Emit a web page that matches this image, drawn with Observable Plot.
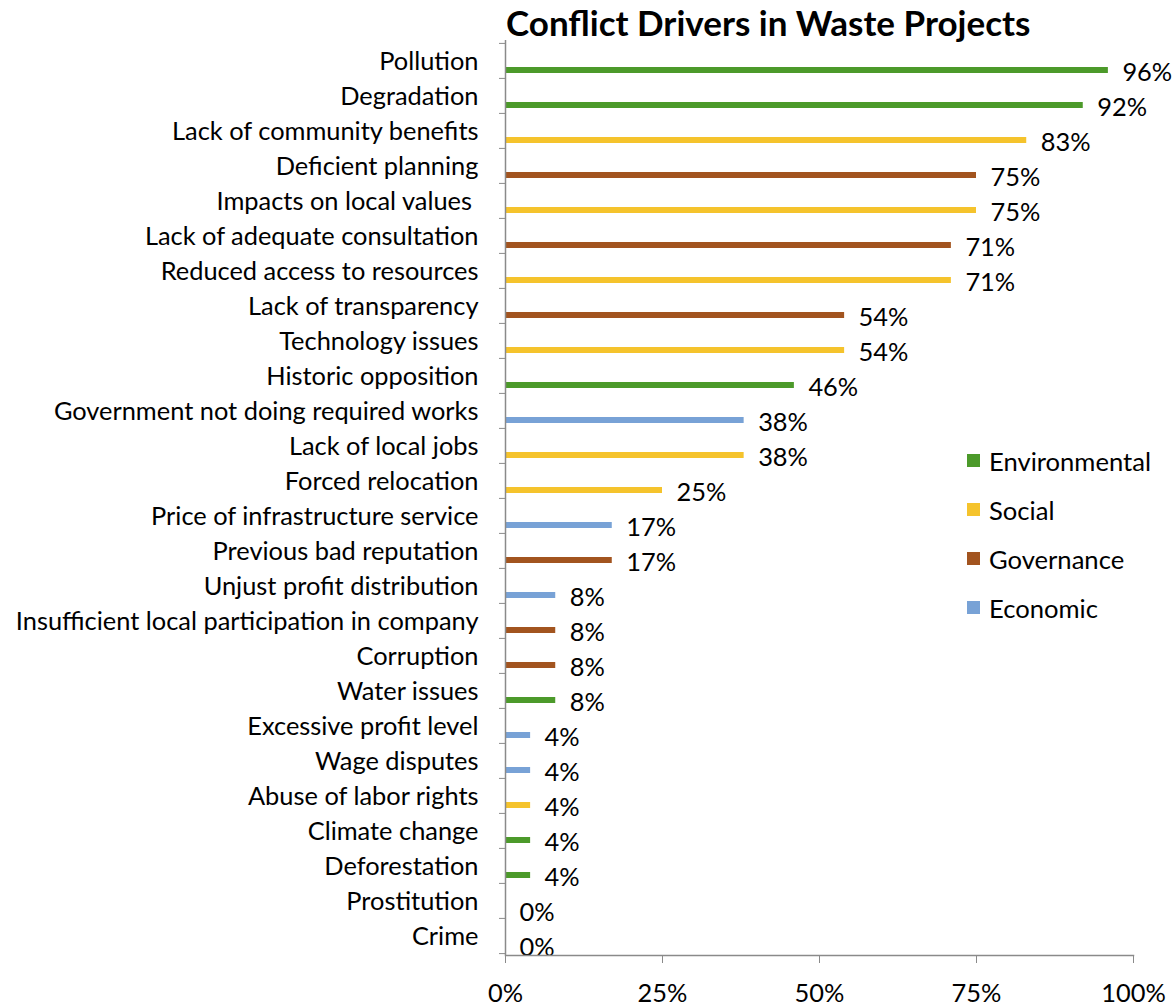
<!DOCTYPE html>
<html>
<head>
<meta charset="utf-8">
<script src="https://cdn.jsdelivr.net/npm/d3@7"></script>
<script src="https://cdn.jsdelivr.net/npm/@observablehq/plot@0.6"></script>
<style>
  html, body { margin: 0; padding: 0; background: #fff; }
  #wrap { position: relative; width: 1174px; height: 1008px; font-family: Lato, "Open Sans", sans-serif; color: #000; background: #fff; }
  #title { position: absolute; left: 506px; top: 2px; font-size: 35px; font-weight: 700; line-height: 40px; margin: 0; white-space: nowrap; z-index: 2; }
  #chart { position: absolute; left: 0; top: 36px; z-index: 1; }
  #legend { position: absolute; left: 967px; top: 448px; z-index: 2; }
  .item { position: relative; height: 49px; font-size: 25.6px; line-height: 26px; }
  .sw { position: absolute; left: 0; top: 6px; width: 13px; height: 13px; }
  .lab { position: absolute; left: 22px; top: 0; white-space: nowrap; }
</style>
</head>
<body>
<div id="wrap">
  <div id="title">Conflict Drivers in Waste Projects</div>
  <div id="chart"></div>
  <div id="legend"></div>
</div>
<script>
// Conflict drivers, top to bottom, with share of projects (%) and driver type
const drivers = [
  "Pollution", "Degradation", "Lack of community benefits", "Deficient planning",
  "Impacts on local values ", "Lack of adequate consultation", "Reduced access to resources",
  "Lack of transparency", "Technology issues", "Historic opposition",
  "Government not doing required works", "Lack of local jobs", "Forced relocation",
  "Price of infrastructure service", "Previous bad reputation", "Unjust profit distribution",
  "Insufficient local participation in company", "Corruption", "Water issues",
  "Excessive profit level", "Wage disputes", "Abuse of labor rights", "Climate change",
  "Deforestation", "Prostitution", "Crime"
];
const shares = [96, 92, 83, 75, 75, 71, 71, 54, 54, 46, 38, 38, 25, 17, 17, 8, 8, 8, 8, 4, 4, 4, 4, 4, 0, 0];
const types = [
  "Environmental", "Environmental", "Social", "Governance", "Social", "Governance", "Social",
  "Governance", "Social", "Environmental", "Economic", "Social", "Social", "Economic",
  "Governance", "Economic", "Governance", "Governance", "Environmental", "Economic",
  "Economic", "Social", "Environmental", "Environmental", "Social", "Social"
];
const typeNames = ["Environmental", "Social", "Governance", "Economic"];
const typeColors = ["#4c9a2a", "#f5c32c", "#a2541f", "#78a2d6"];
const xTicks = [0, 25, 50, 75, 100];

const rows = drivers.map((name, i) => ({name, share: shares[i], type: types[i]}));

const H = 972, marginTop = 4, marginBottom = 53;
const step = (H - marginTop - marginBottom) / drivers.length;
const font = "Lato, 'Open Sans', sans-serif";
const fs = 25.4;

const chart = Plot.plot({
  width: 1174,
  height: H,
  marginLeft: 505,
  marginRight: 41,
  marginTop,
  marginBottom,
  style: {fontFamily: font, fontSize: fs + "px", color: "#000", background: "transparent", overflow: "visible"},
  x: {domain: [0, 100], label: null},
  y: {domain: drivers, padding: 0, label: null},
  color: {domain: typeNames, range: typeColors},
  marks: [
    // horizontal bars sit in the lower part of each band
    Plot.barX(rows, {x: "share", y: "name", fill: "type", insetTop: 24, insetBottom: 5}),
    // value labels
    Plot.text(rows, {
      x: "share", y: "name", text: d => d.share + "%",
      textAnchor: "start", dx: 14, dy: 12, fontSize: fs, fill: "#000"
    }),
    // category labels
    Plot.axisY({tickSize: 0, tickPadding: 27, dy: 1, fontSize: fs, fill: "#000",
      label: null, tickFormat: d => d}),
    // boundary ticks between categories
    Plot.axisY({tickSize: 6, dy: -step / 2, tickFormat: null, stroke: "#8a8a8a", text: null, label: null}),
    Plot.axisY({ticks: [drivers[drivers.length - 1]], tickSize: 6, dy: step / 2, stroke: "#8a8a8a", text: null, label: null}),
    Plot.ruleX([0], {stroke: "#8a8a8a", strokeWidth: 1.5}),
    Plot.frame({anchor: "bottom", stroke: "#8a8a8a", strokeWidth: 1.5}),
    Plot.axisX({ticks: xTicks, tickSize: 8, tickPadding: 20, stroke: "#8a8a8a", label: null,
      tickFormat: d => d + "%", fontSize: fs, fill: "#000"})
  ]
});
chart.querySelectorAll("text").forEach(t => t.style.whiteSpace = "pre");
document.getElementById("chart").appendChild(chart);

// legend
const legend = document.getElementById("legend");
typeNames.forEach((name, i) => {
  const item = document.createElement("div");
  item.className = "item";
  item.innerHTML = `<span class="sw" style="background:${typeColors[i]}"></span><span class="lab">${name}</span>`;
  legend.appendChild(item);
});
</script>
</body>
</html>
